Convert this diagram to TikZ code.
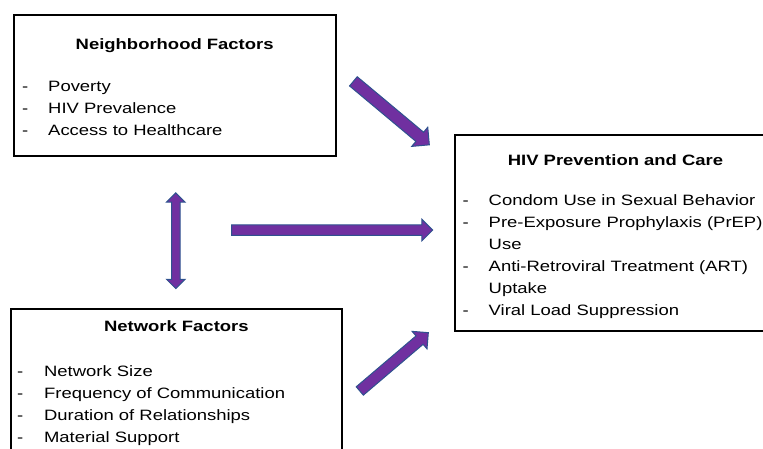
\documentclass[tikz,border=0pt]{standalone}
\usepackage{fontspec}
\setmainfont{Liberation Sans}[FakeStretch=1.23]
\usetikzlibrary{positioning,calc,shapes.arrows}
\definecolor{arrpurple}{HTML}{7030A0}
\definecolor{arrblue}{HTML}{2F528F}
\tikzset{factorbox/.style={draw, line width=2pt, inner sep=0pt, outer sep=0pt}}
\tikzset{boxtitle/.style={anchor=base, inner sep=0pt, font=\fontsize{15}{22}\selectfont\bfseries}}
\tikzset{boxlist/.style={anchor=base west, inner sep=0pt, font=\fontsize{15}{22}\selectfont}}
\tikzset{fatarr/.style={single arrow, draw=arrblue, fill=arrpurple, line width=1pt, inner xsep=0pt, single arrow tip angle=90, anchor=tail}}
\tikzset{fatdarr/.style={double arrow, draw=arrblue, fill=arrpurple, line width=1pt, inner xsep=0pt, double arrow tip angle=90}}

\begin{document}
\begin{tikzpicture}[x=1pt,y=-1pt]
	\useasboundingbox (0,0) rectangle (763,448);
	\clip (0,0) rectangle (763,448);
	% boxes
	\node[factorbox, minimum width=321.7pt, minimum height=141.7pt] (nbh) at (174.65,85.35) {};
	\node[factorbox, minimum width=322pt, minimum height=196pt] (hiv) at (615.5,232.5) {};
	\node[factorbox, minimum width=330.3pt, minimum height=161.3pt] (net) at (176.35,389.35) {};
	%
	\node[boxtitle] (nbhtitle) at ($(nbh.north)+(0,34.5)$) {Neighborhood Factors};
	\node[boxtitle] (hivtitle) at ($(hiv.north)+(0,30.5)$) {HIV Prevention and Care};
	\node[boxtitle] (nettitle) at ($(net.north)+(0,23)$) {Network Factors};
	%
	\node[boxlist] (nbhlist) at ($(nbh.north west)+(8.2,77.2)$) {\begin{tabular}[t]{@{}p{26pt}@{}l@{}}
		- & Poverty\\
		- & HIV Prevalence\\
		- & Access to Healthcare
	\end{tabular}};
	\node[boxlist] (hivlist) at ($(hiv.north west)+(8,70.5)$) {\begin{tabular}[t]{@{}p{26pt}@{}l@{}}
		- & Condom Use in Sexual Behavior\\
		- & Pre-Exposure Prophylaxis (PrEP)\\
		  & Use\\
		- & Anti-Retroviral Treatment (ART)\\
		  & Uptake\\
		- & Viral Load Suppression
	\end{tabular}};
	\node[boxlist] (netlist) at ($(net.north west)+(5.7,67.3)$) {\begin{tabular}[t]{@{}p{27pt}@{}l@{}}
		- & Network Size\\
		- & Frequency of Communication\\
		- & Duration of Relationships\\
		- & Material Support
	\end{tabular}};
	%
	% \node[fatarr] ... arrows sit in the gaps between the boxes
	\node[fatarr, minimum height=99pt, inner ysep=5.5pt, single arrow head extend=6.5pt, rotate=-39.9] (nbh2hiv) at (353,81) {};
	\node[fatarr, minimum height=201pt, inner ysep=4.75pt, single arrow head extend=5.5pt] (mid2hiv) at (231.2,230) {};
	\node[fatarr, minimum height=90pt, inner ysep=5pt, single arrow head extend=6pt, rotate=40.4] (net2hiv) at (359.4,391.3) {};
	\node[fatdarr, minimum height=95.7pt, inner ysep=3.75pt, double arrow head extend=5pt, rotate=90] (nbh2net) at (175.8,240.7) {};
\end{tikzpicture}
\end{document}
